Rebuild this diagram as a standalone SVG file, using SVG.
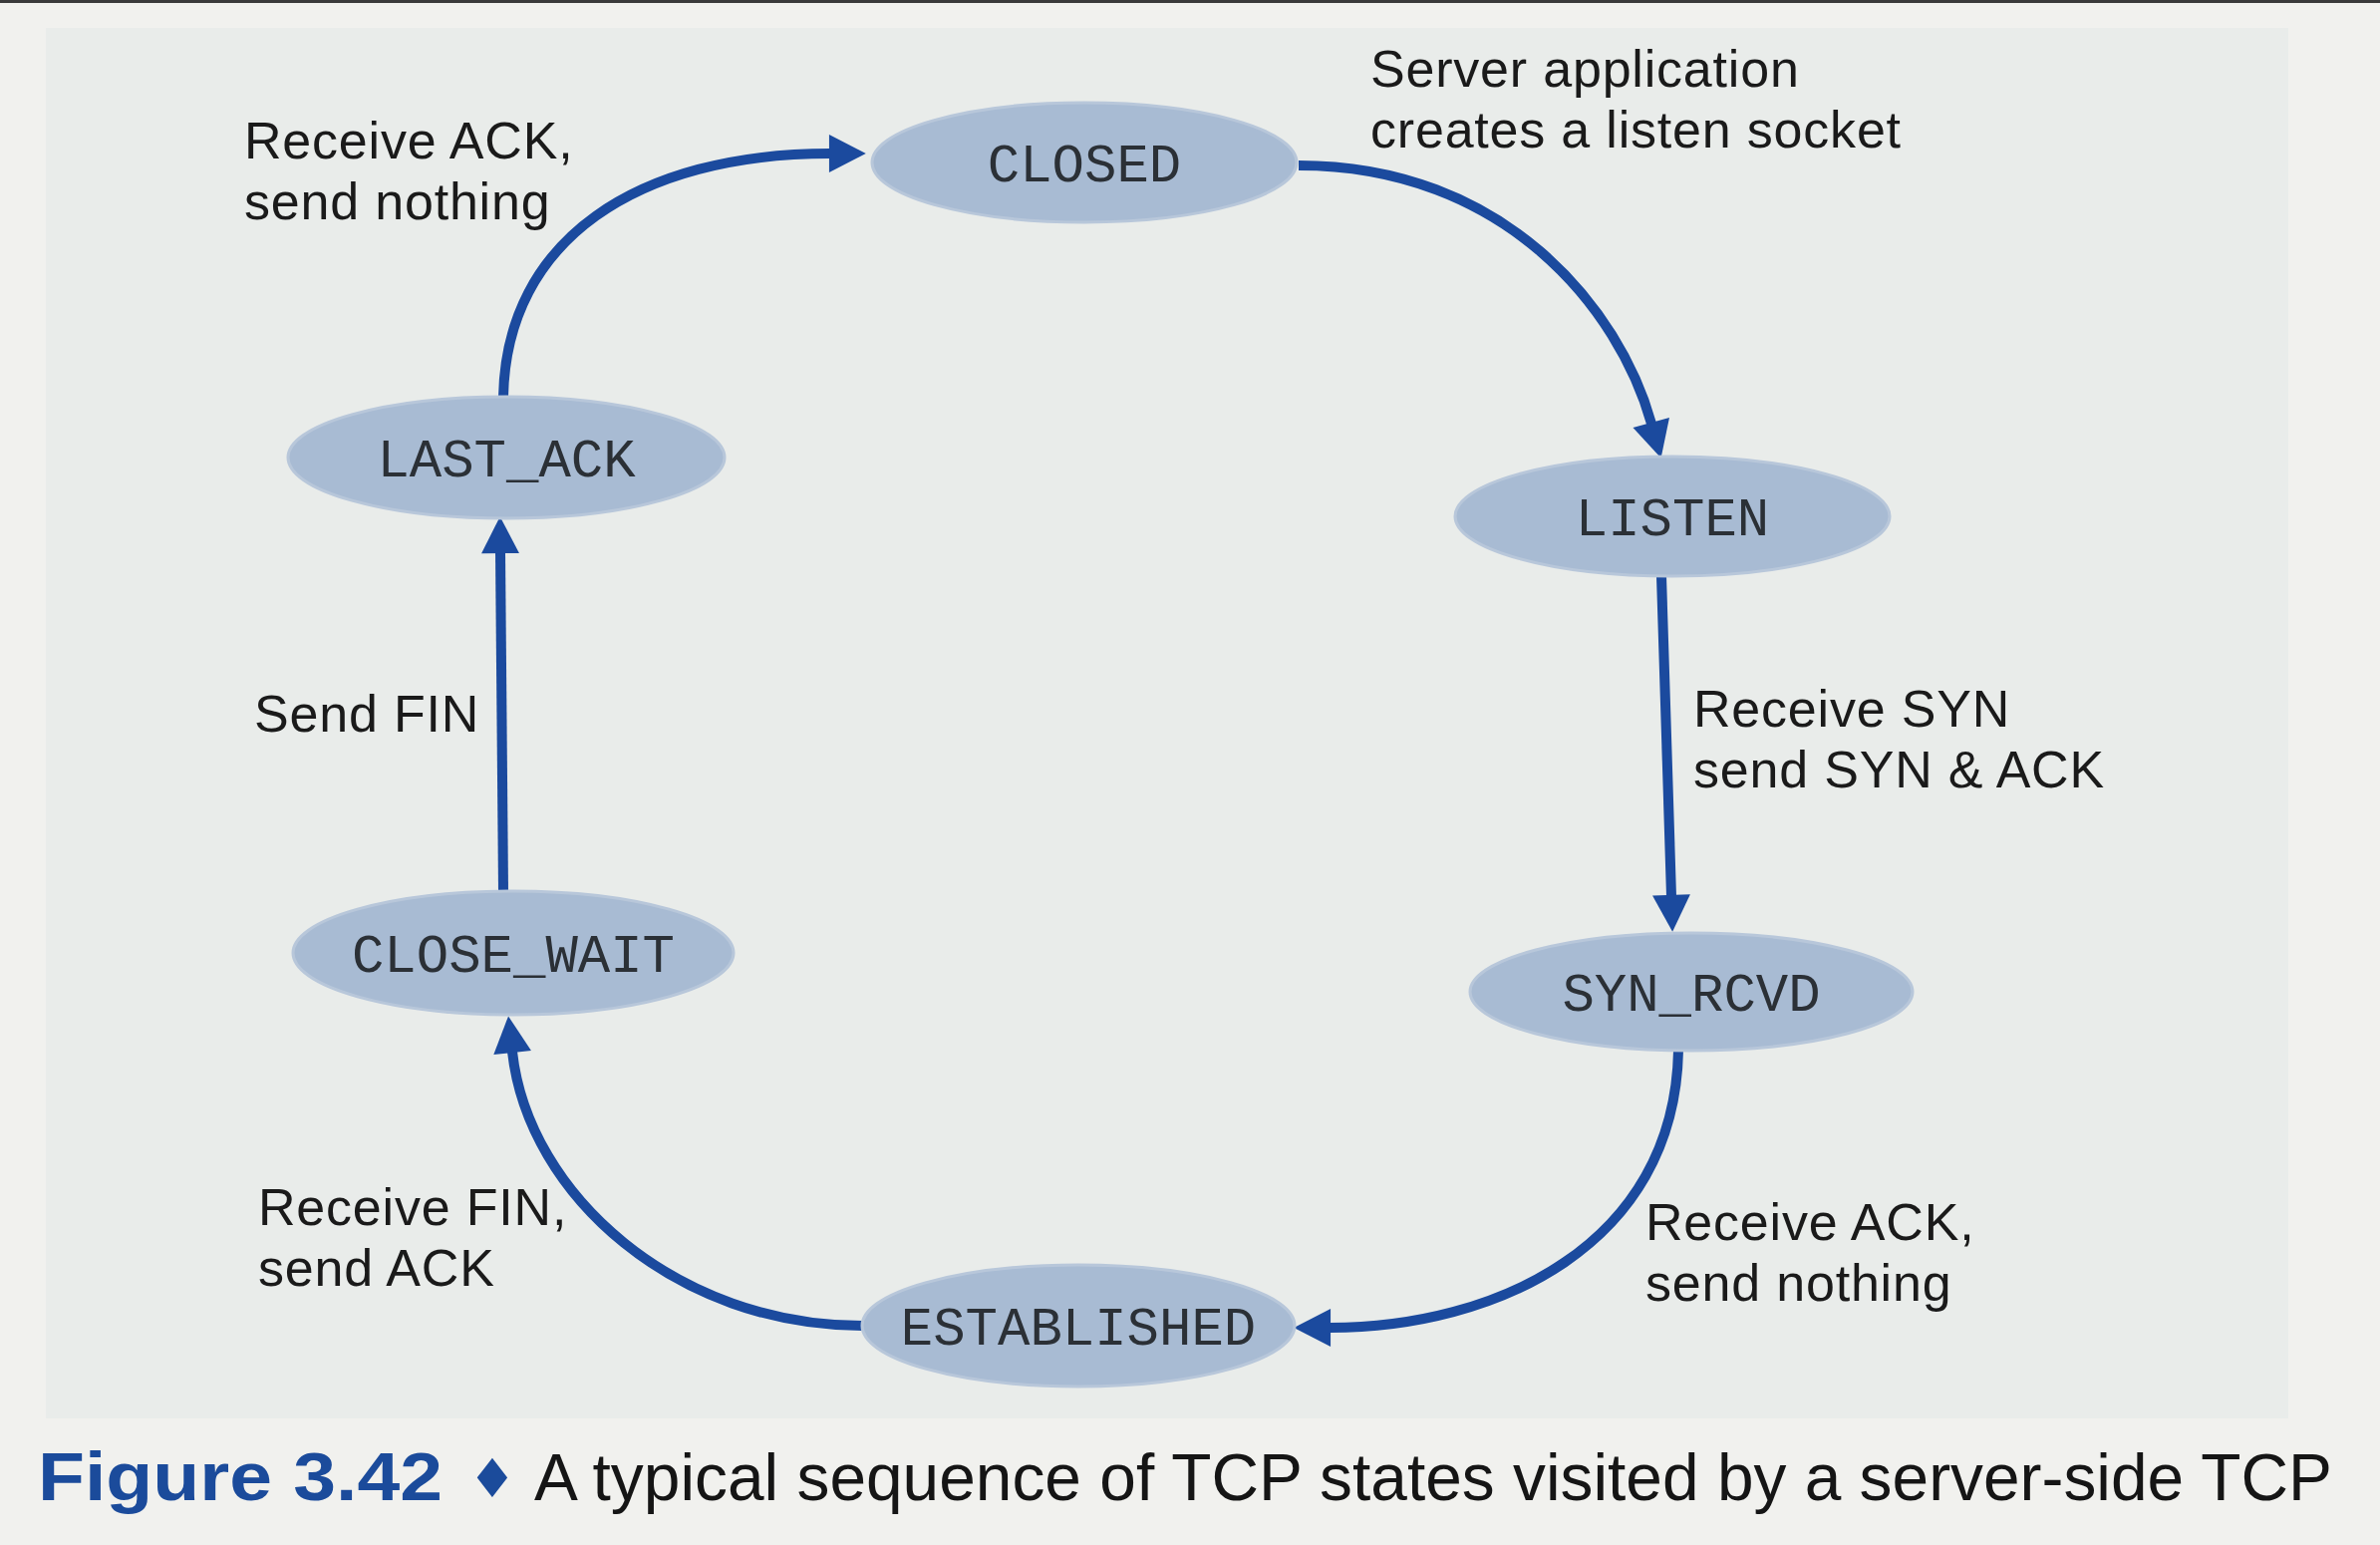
<svg xmlns="http://www.w3.org/2000/svg" width="2388" height="1550" viewBox="0 0 2388 1550">
  <defs>
    <style>
      .node ellipse { fill: #a8bbd3; stroke: #b8c7da; stroke-width: 3; }
      .node text { font-family: "Liberation Mono", "Courier New", monospace; font-size: 54px; fill: #2b3036; text-anchor: middle; }
      .edge { fill: none; stroke: #1b4a9e; stroke-width: 10; }
      .lbl { font-family: "Liberation Sans", "Open Sans", sans-serif; font-size: 52px; letter-spacing: 0.8px; fill: #1a1a1a; }
      .cap { font-family: "Liberation Sans", "DejaVu Sans", sans-serif; }
    </style>
    <marker id="ah" markerUnits="userSpaceOnUse" markerWidth="40" markerHeight="40" viewBox="0 -19 36 38" refX="1" refY="0" orient="auto">
      <path d="M0,-18 L35,0 L0,18 Z" fill="#1b4a9e"/>
    </marker>
  </defs>

  <!-- background -->
  <rect x="0" y="0" width="2388" height="1550" fill="#f1f1ee"/>
  <rect x="46" y="28" width="2250" height="1395" fill="#e9ecea"/>
  <rect x="0" y="0" width="2388" height="3" fill="#3a3a3a"/>

  <!-- connectors -->
  <g id="connectors">
    <path class="edge" d="M1303,166 C1510,166 1625,310 1657,425" marker-end="url(#ah)"/>
    <path class="edge" d="M1667,578 L1677,899" marker-end="url(#ah)"/>
    <path class="edge" d="M1684,1054 C1680,1250 1500,1332 1334,1332" marker-end="url(#ah)"/>
    <path class="edge" d="M865,1330 C680,1330 530,1200 514,1055" marker-end="url(#ah)"/>
    <path class="edge" d="M505,894 L502,554" marker-end="url(#ah)"/>
    <path class="edge" d="M505,398 C508,240 640,154 833,154" marker-end="url(#ah)"/>
  </g>

  <!-- nodes -->
  <g id="closed" class="node">
    <ellipse cx="1088" cy="163" rx="213" ry="60"/>
    <text x="1088" y="182">CLOSED</text>
  </g>
  <g id="listen" class="node">
    <ellipse cx="1678" cy="518" rx="218" ry="60"/>
    <text x="1678" y="537">LISTEN</text>
  </g>
  <g id="syn_rcvd" class="node">
    <ellipse cx="1697" cy="995" rx="222" ry="59"/>
    <text x="1697" y="1014">SYN_RCVD</text>
  </g>
  <g id="established" class="node">
    <ellipse cx="1082" cy="1330" rx="217" ry="61"/>
    <text x="1082" y="1349">ESTABLISHED</text>
  </g>
  <g id="close_wait" class="node">
    <ellipse cx="515" cy="956" rx="221" ry="62"/>
    <text x="515" y="975">CLOSE_WAIT</text>
  </g>
  <g id="last_ack" class="node">
    <ellipse cx="508" cy="459" rx="219" ry="61"/>
    <text x="508" y="478">LAST_ACK</text>
  </g>

  <!-- connector labels -->
  <g id="labels">
    <text class="lbl" x="1375" y="87">Server application</text>
    <text class="lbl" x="1375" y="148">creates a listen socket</text>
    <text class="lbl" x="245" y="159">Receive ACK,</text>
    <text class="lbl" x="245" y="220">send nothing</text>
    <text class="lbl" x="255" y="734">Send FIN</text>
    <text class="lbl" x="1699" y="729">Receive SYN</text>
    <text class="lbl" x="1699" y="790">send SYN &amp; ACK</text>
    <text class="lbl" x="1651" y="1244">Receive ACK,</text>
    <text class="lbl" x="1651" y="1305">send nothing</text>
    <text class="lbl" x="259" y="1229">Receive FIN,</text>
    <text class="lbl" x="259" y="1290">send ACK</text>
  </g>

  <!-- caption -->
  <g id="caption">
    <text class="cap" x="38" y="1505" font-size="68" font-weight="bold" fill="#1b4b9b" textLength="406" lengthAdjust="spacingAndGlyphs">Figure 3.42</text>
    <text x="494" y="1502" font-family="DejaVu Sans, sans-serif" font-size="54" fill="#1b4b9b" text-anchor="middle">♦</text>
    <text class="cap" x="536" y="1505" font-size="66" fill="#151515" textLength="1804" lengthAdjust="spacingAndGlyphs">A typical sequence of TCP states visited by a server-side TCP</text>
  </g>
</svg>
